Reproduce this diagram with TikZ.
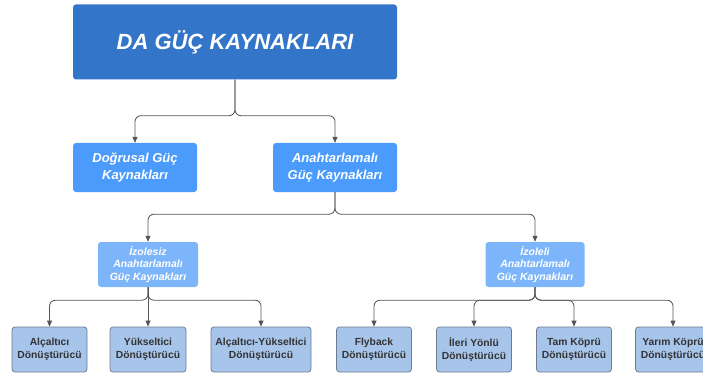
\documentclass[tikz,border=0pt]{standalone}
\usepackage{fontspec}
\setmainfont{Liberation Sans}
\usetikzlibrary{arrows.meta}
\definecolor{kokmavi}{HTML}{3375C8}
\definecolor{dalmavi}{HTML}{4A9BFB}
\definecolor{altmavi}{HTML}{7DB5FA}
\definecolor{yaprak}{HTML}{A7C5EA}
\definecolor{yaprakcizgi}{HTML}{6D7C8E}
\definecolor{yazi}{HTML}{333333}
\definecolor{ok}{HTML}{555555}
\begin{document}
\begin{tikzpicture}[x=1pt,y=1pt]
	\tikzset{
		kutu/.style={rectangle,rounded corners=3pt,inner sep=0pt,align=center,text=white,font=\bfseries\itshape},
		kok/.style={kutu,fill=kokmavi,minimum width=324pt,minimum height=75pt,font=\bfseries\itshape\fontsize{22}{26}\selectfont},
		dal/.style={kutu,fill=dalmavi,minimum width=124pt,minimum height=49pt,font=\bfseries\itshape\fontsize{13}{16.5}\selectfont},
		alt/.style={kutu,fill=altmavi,minimum width=100pt,minimum height=45pt,font=\bfseries\itshape\fontsize{10.5}{12.5}\selectfont},
		yaprakkutu/.style={kutu,fill=yaprak,draw=yaprakcizgi,line width=0.8pt,minimum width=75pt,minimum height=45pt,text=yazi,font=\bfseries\fontsize{10.3}{12.5}\selectfont},
		baglanti/.style={draw=ok,line width=0.8pt,rounded corners=6pt,-{Triangle[length=6pt,width=5pt]}}
	}
	\useasboundingbox (0,0) rectangle (703,-374);
	% ust seviye
	\node [kok] (da) at (235,-42) {DA GÜÇ KAYNAKLARI};
	\node [dal] (dogrusal) at (135,-167.5) {Doğrusal Güç\\Kaynakları};
	\node [dal] (anahtarlamali) at (335,-167.5) {Anahtarlamalı\\Güç Kaynakları};
	% ara seviye
	\node [alt] (izolesiz) at (148,-264.5) {İzolesiz\\Anahtarlamalı\\Güç Kaynakları};
	\node [alt,minimum width=99pt] (izoleli) at (535,-264.5) {İzoleli\\Anahtarlamalı\\Güç Kaynakları};
	% donusturuculer
	\node [yaprakkutu] (alcaltici) at (49.5,-349.5) {Alçaltıcı\\Dönüştürücü};
	\node [yaprakkutu,minimum width=76pt] (yukseltici) at (148,-349.5) {Yükseltici\\Dönüştürücü};
	\node [yaprakkutu,minimum width=100pt] (alcyuk) at (261,-349.5) {Alçaltıcı-Yükseltici\\Dönüştürücü};
	\node [yaprakkutu] (flyback) at (374,-349.5) {Flyback\\Dönüştürücü};
	\node [yaprakkutu] (ileri) at (474,-349.5) {İleri Yönlü\\Dönüştürücü};
	\node [yaprakkutu] (tam) at (574,-349.5) {Tam Köprü\\Dönüştürücü};
	\node [yaprakkutu] (yarim) at (673,-349.5) {Yarım Köprü\\Dönüştürücü};
	% baglantilar
	\foreach \c in {dogrusal,anahtarlamali}
		\draw [baglanti] (da.south) -- ++(0,-36) -| (\c.north);
	\foreach \c in {izolesiz,izoleli}
		\draw [baglanti] (anahtarlamali.south) -- ++(0,-22) -| (\c.north);
	\foreach \c in {alcaltici,alcyuk}
		\draw [baglanti] (izolesiz.south) -- ++(0,-13) -| (\c.north);
	\draw [baglanti] (izolesiz.south) -- (yukseltici.north);
	\foreach \c in {flyback,ileri,tam,yarim}
		\draw [baglanti] (izoleli.south) -- ++(0,-13) -| (\c.north);
\end{tikzpicture}
\end{document}
